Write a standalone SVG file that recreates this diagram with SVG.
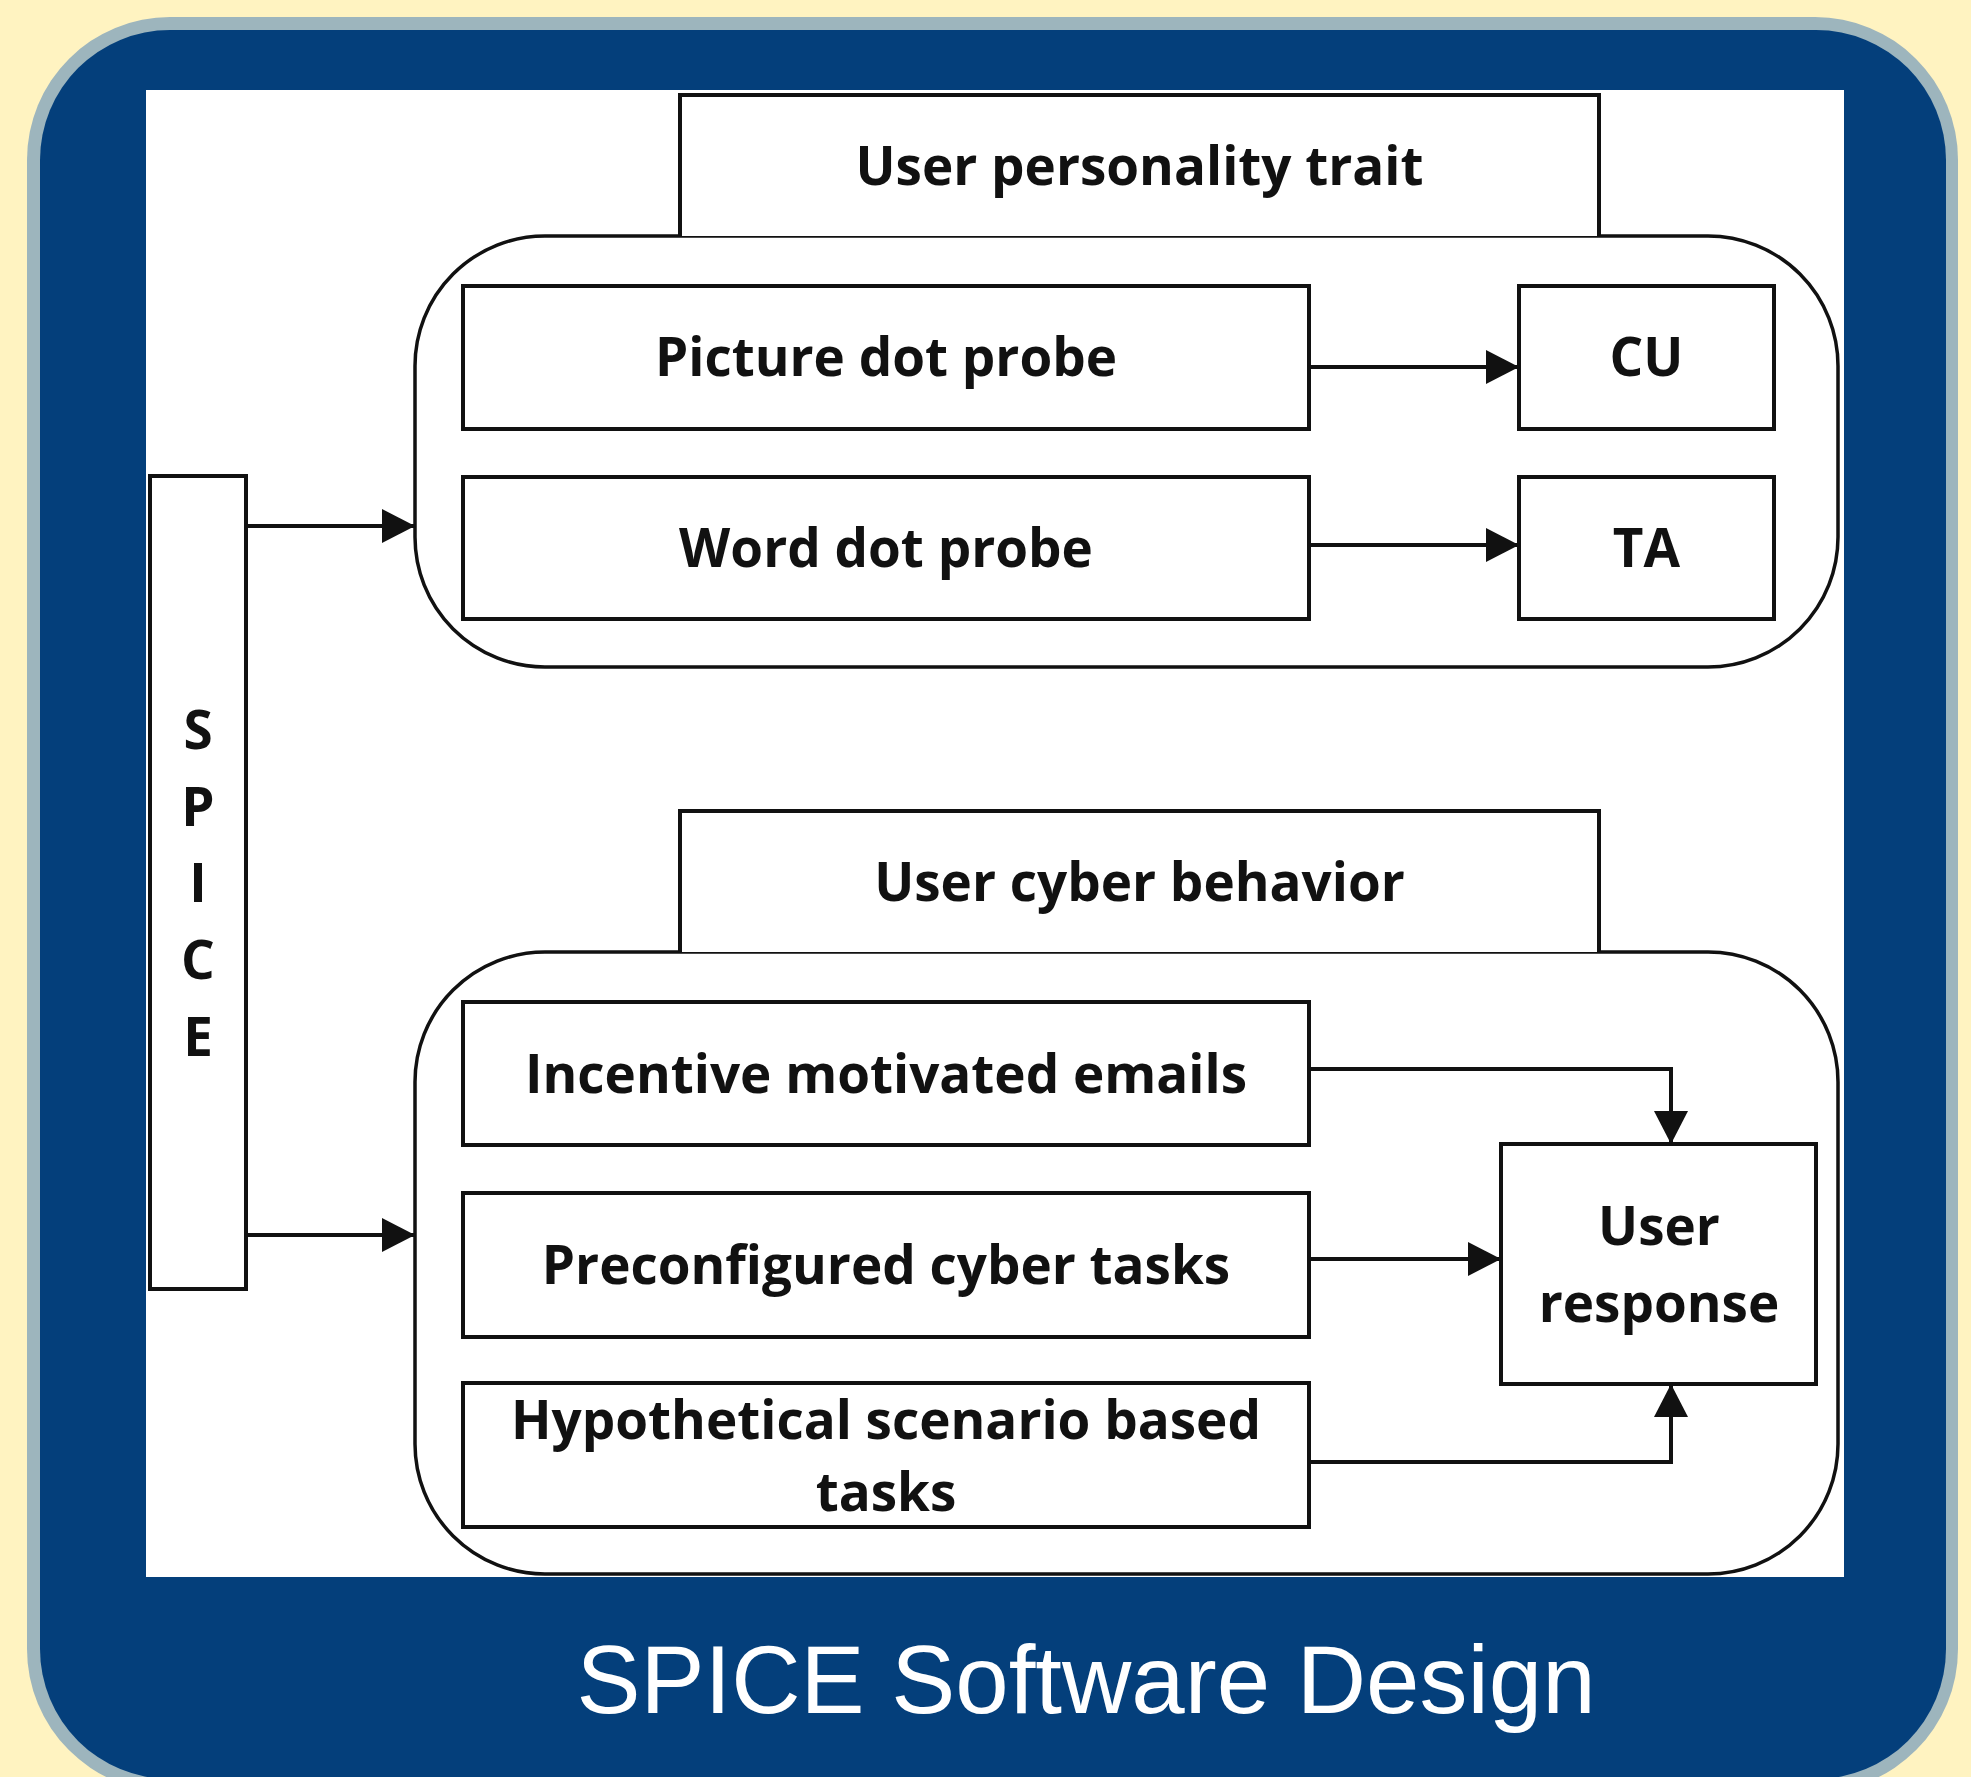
<svg xmlns="http://www.w3.org/2000/svg" width="1971" height="1777" viewBox="0 0 1971 1777">
  <style>
    .box { fill: #ffffff; stroke: #111111; stroke-width: 4; }
    .group { fill: none; stroke: #111111; stroke-width: 3.5; }
    .label { font-family: "Open Sans", "Noto Sans", "DejaVu Sans", sans-serif; font-weight: 700; font-size: 53px; fill: #111111; text-anchor: middle; }
    .wire { fill: none; stroke: #111111; stroke-width: 4; }
    .title { font-family: "Liberation Sans", Arial, sans-serif; font-size: 96px; fill: #ffffff; text-anchor: middle; }
  </style>
  <defs>
    <marker id="arrow" markerUnits="userSpaceOnUse" markerWidth="34" markerHeight="34" refX="33" refY="17" orient="auto">
      <path d="M0,0 L33,17 L0,34 Z" fill="#111111"/>
    </marker>
  </defs>

  <!-- page and framed panel -->
  <rect x="0" y="0" width="1971" height="1777" fill="#fff3c1"/>
  <rect x="27" y="17" width="1931" height="1775" rx="143" ry="143" fill="#9db5bd"/>
  <rect x="40" y="30" width="1906" height="1749" rx="130" ry="130" fill="#043f7b"/>
  <rect x="146" y="90" width="1698" height="1487" fill="#ffffff"/>

  <!-- containers -->
  <g id="personality-group">
    <rect class="group" x="415" y="236" width="1423" height="431" rx="130" ry="130"/>
  </g>
  <g id="behavior-group">
    <rect class="group" x="415" y="952" width="1423" height="622" rx="130" ry="130"/>
  </g>

  <!-- nodes -->
  <g id="node-personality-trait">
    <path class="box" d="M680,236 L680,95 L1599,95 L1599,236"/>
    <text class="label" x="1139.5" y="185">User personality trait</text>
  </g>
  <g id="node-picture-dot-probe">
    <rect class="box" x="463" y="286" width="846" height="143"/>
    <text class="label" x="886" y="376">Picture dot probe</text>
  </g>
  <g id="node-cu">
    <rect class="box" x="1519" y="286" width="255" height="143"/>
    <text class="label" x="1646.5" y="376">CU</text>
  </g>
  <g id="node-word-dot-probe">
    <rect class="box" x="463" y="477" width="846" height="142"/>
    <text class="label" x="886" y="567">Word dot probe</text>
  </g>
  <g id="node-ta">
    <rect class="box" x="1519" y="477" width="255" height="142"/>
    <text class="label" x="1646.5" y="567">TA</text>
  </g>
  <g id="node-spice">
    <rect class="box" x="150" y="476" width="96" height="813"/>
    <text class="label" x="198" y="749">S</text>
    <text class="label" x="198" y="826">P</text>
    <text class="label" x="198" y="902">I</text>
    <text class="label" x="198" y="979">C</text>
    <text class="label" x="198" y="1056">E</text>
  </g>
  <g id="node-cyber-behavior">
    <path class="box" d="M680,952 L680,811 L1599,811 L1599,952"/>
    <text class="label" x="1139.5" y="901">User cyber behavior</text>
  </g>
  <g id="node-incentive-emails">
    <rect class="box" x="463" y="1002" width="846" height="143"/>
    <text class="label" x="886" y="1093">Incentive motivated emails</text>
  </g>
  <g id="node-preconfigured-tasks">
    <rect class="box" x="463" y="1193" width="846" height="144"/>
    <text class="label" x="886" y="1284">Preconfigured cyber tasks</text>
  </g>
  <g id="node-hypothetical-tasks">
    <rect class="box" x="463" y="1383" width="846" height="144"/>
    <text class="label" x="886" y="1439">Hypothetical scenario based</text>
    <text class="label" x="886" y="1511">tasks</text>
  </g>
  <g id="node-user-response">
    <rect class="box" x="1501" y="1144" width="315" height="240"/>
    <text class="label" x="1659" y="1245">User</text>
    <text class="label" x="1659" y="1322">response</text>
  </g>

  <!-- connectors -->
  <g id="connectors">
    <line class="wire" x1="246" y1="526" x2="415" y2="526" marker-end="url(#arrow)"/>
    <line class="wire" x1="246" y1="1235" x2="415" y2="1235" marker-end="url(#arrow)"/>
    <line class="wire" x1="1309" y1="367" x2="1519" y2="367" marker-end="url(#arrow)"/>
    <line class="wire" x1="1309" y1="545" x2="1519" y2="545" marker-end="url(#arrow)"/>
    <polyline class="wire" points="1309,1069 1671,1069 1671,1144" marker-end="url(#arrow)"/>
    <line class="wire" x1="1309" y1="1259" x2="1501" y2="1259" marker-end="url(#arrow)"/>
    <polyline class="wire" points="1309,1462 1671,1462 1671,1384" marker-end="url(#arrow)"/>
  </g>

  <text class="title" x="1086" y="1713">SPICE Software Design</text>
</svg>
